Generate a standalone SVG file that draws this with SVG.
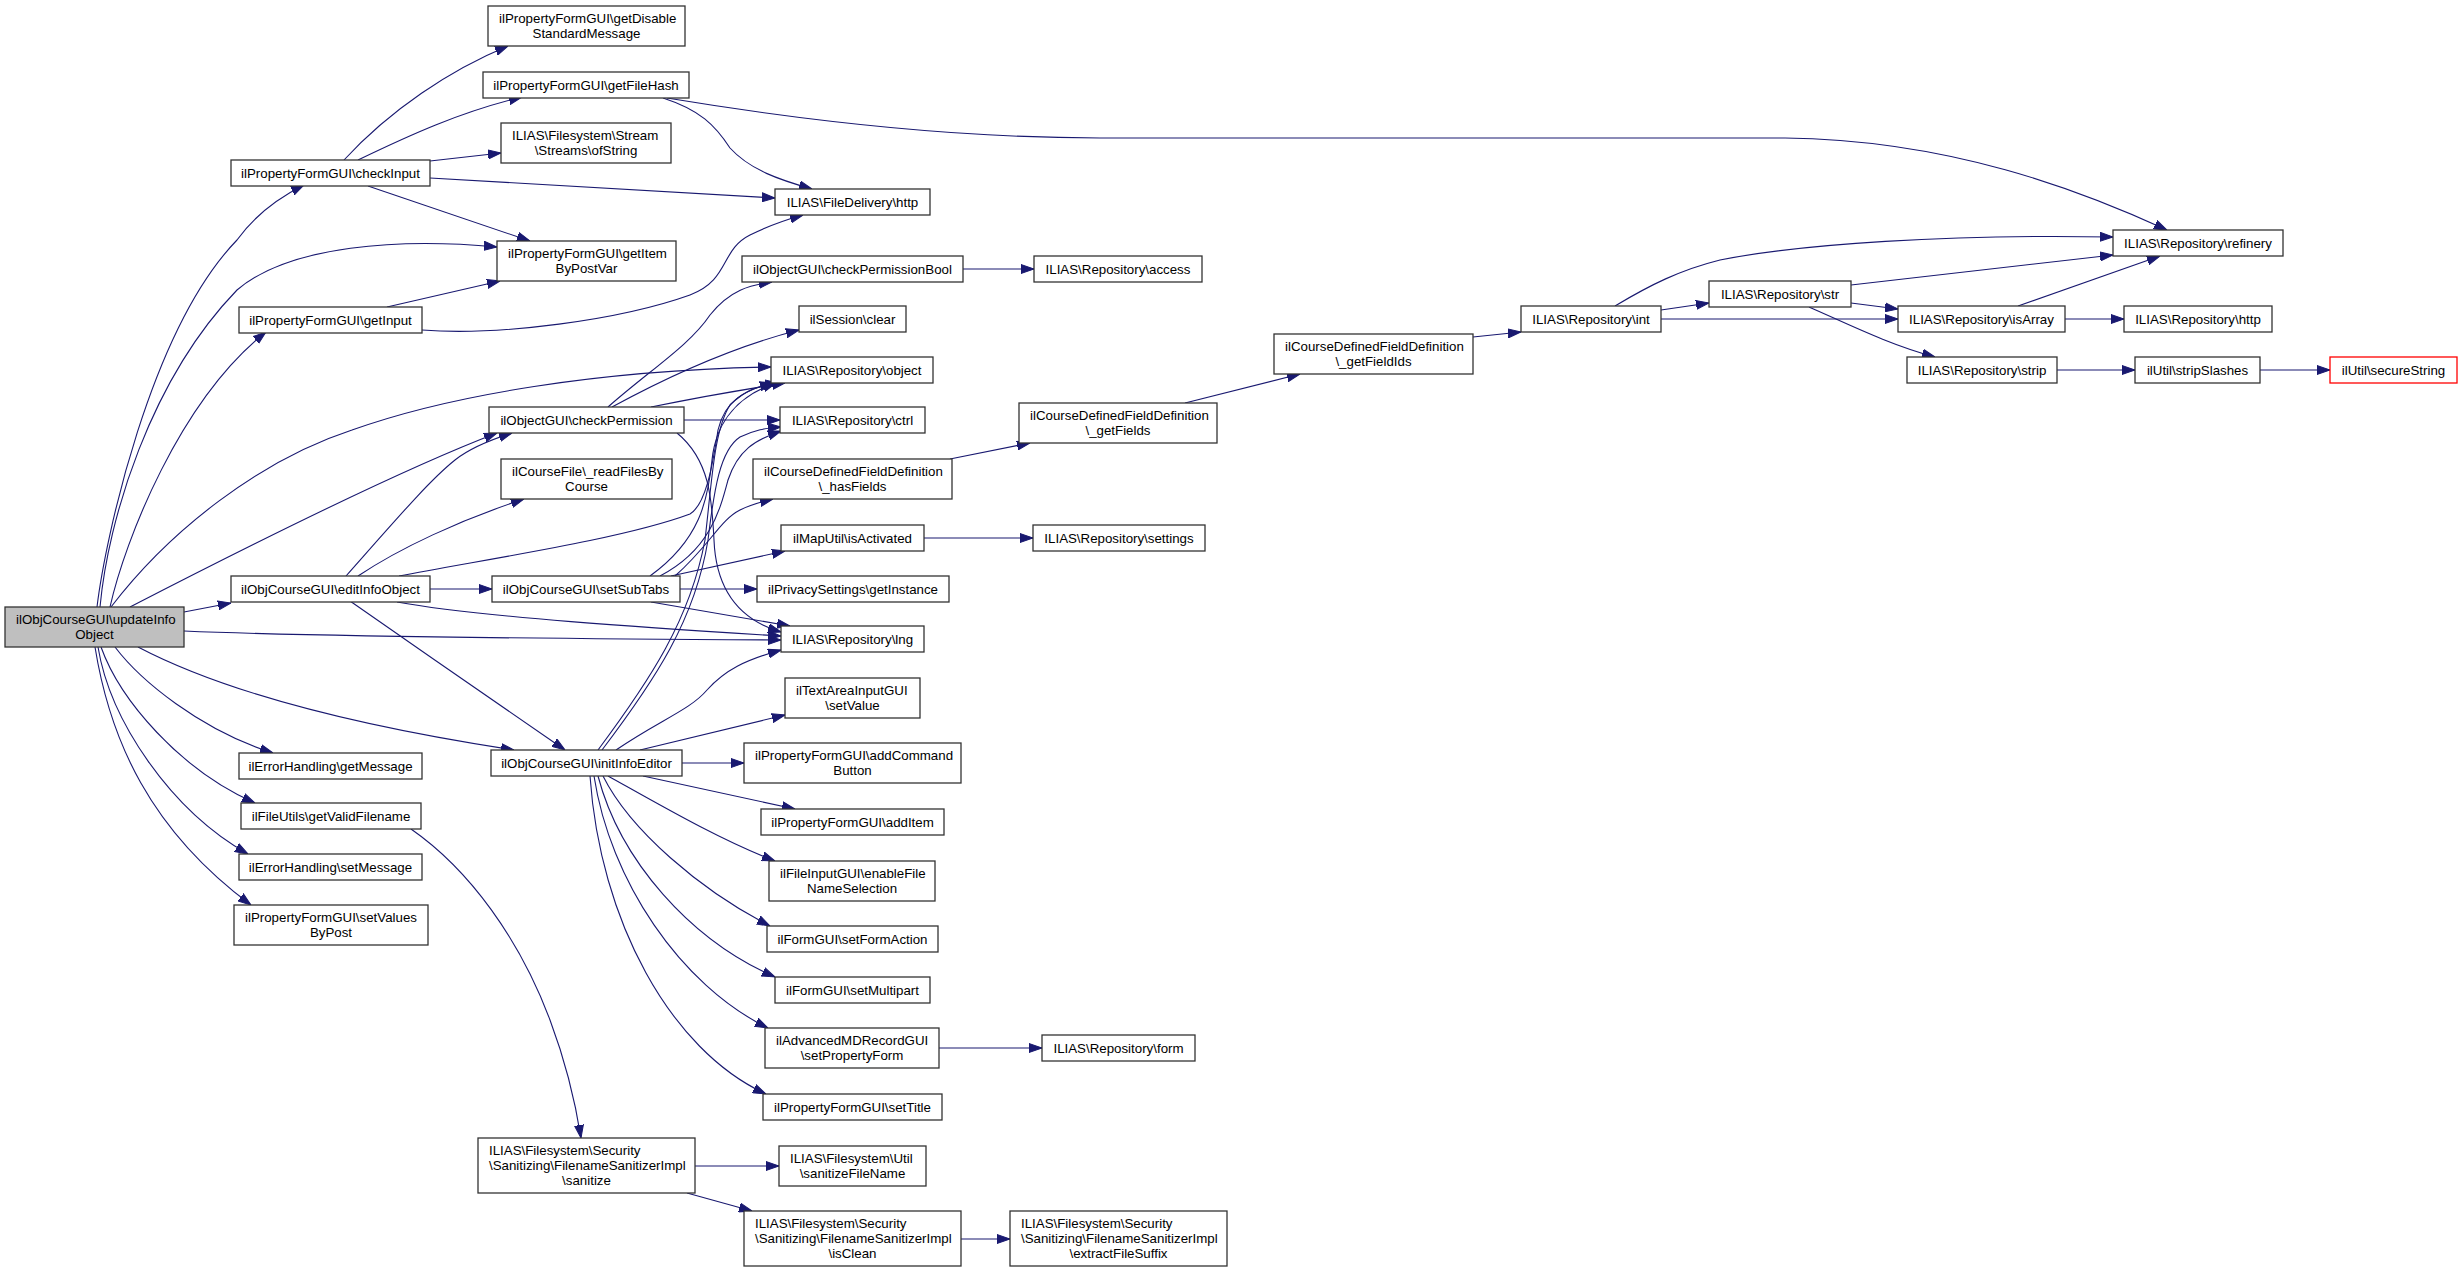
<svg xmlns="http://www.w3.org/2000/svg" width="2461" height="1273" viewBox="0 0 2461 1273">
<style>
.n rect{fill:#fff;stroke:#333;stroke-width:1.3}
.n.root rect{fill:#bfbfbf}
.n.red rect{stroke:#ff0000}
.n text{font-family:"Liberation Sans",Arial,Helvetica,sans-serif;font-size:13.3px;fill:#000}
.n text.c{text-anchor:middle}
.n text.l{text-anchor:start}
.e path{fill:none;stroke:#191970;stroke-width:1.1;marker-end:url(#ah)}
</style>
<defs>
<marker id="ah" viewBox="0 0 13 10" markerWidth="13" markerHeight="10" refX="13" refY="5" orient="auto" markerUnits="userSpaceOnUse">
<path d="M0,0.5 L13,5 L0,9.5 z" fill="#191970" stroke="#191970" stroke-width="1"/>
</marker>
</defs>
<rect width="2461" height="1273" fill="#fff"/>
<g id="edges" class="e">
<path d="M97,607 C105,540 150,330 237,240 C255,215 278,198 304,185"/>
<path d="M100,607 C108,520 150,380 237,290 C290,245 400,238 497,247"/>
<path d="M110,607 C125,540 180,400 266,332"/>
<path d="M111,607 C170,530 260,460 352,430 C450,395 600,370 771,367"/>
<path d="M130,607 C260,540 400,470 497,433"/>
<path d="M184,612 L231,603"/>
<path d="M184,631 C300,636 600,639 781,640"/>
<path d="M138,647 C220,690 350,725 514,750"/>
<path d="M115,647 C140,680 200,730 273,753"/>
<path d="M101,647 C120,700 180,770 255,803"/>
<path d="M98,647 C110,720 170,810 248,854"/>
<path d="M95,647 C110,740 150,830 251,905"/>
<path d="M346,576 C400,515 430,480 455,460 C470,448 490,440 512,433"/>
<path d="M358,576 C400,548 460,520 524,499"/>
<path d="M399,576 C480,560 620,540 690,514 C705,505 712,470 718,430 C725,400 745,390 773,383"/>
<path d="M430,589 L492,589"/>
<path d="M397,602 C480,617 650,628 781,636"/>
<path d="M350,601 C420,650 500,705 565,750"/>
<path d="M344,160 C390,110 450,70 508,46"/>
<path d="M358,160 C410,135 460,112 522,97"/>
<path d="M430,161 L501,153"/>
<path d="M430,178 C560,185 680,193 775,198"/>
<path d="M368,186 L530,241"/>
<path d="M387,307 L500,281"/>
<path d="M422,330 C500,336 620,320 690,295 C730,280 720,250 750,235 C770,225 785,220 803,215"/>
<path d="M663,98 C700,110 715,125 730,148 C750,170 780,180 812,189"/>
<path d="M667,98 C800,120 950,138 1100,138 L1785,138 C1950,140 2080,190 2167,230"/>
<path d="M963,269 L1034,269"/>
<path d="M608,407 C650,370 690,345 710,315 C730,290 750,285 772,282"/>
<path d="M612,407 C680,370 740,345 799,330"/>
<path d="M651,407 C700,397 740,390 785,383"/>
<path d="M684,420 L780,420"/>
<path d="M677,433 C710,460 712,500 714,540 C716,590 740,620 781,632"/>
<path d="M650,576 C700,540 708,500 712,460 C716,420 740,395 776,383"/>
<path d="M660,576 C710,550 720,510 728,480 C738,450 755,440 781,431"/>
<path d="M675,576 C710,545 720,520 740,510 C750,505 760,502 773,499"/>
<path d="M671,576 L785,551"/>
<path d="M680,589 L757,589"/>
<path d="M651,602 L790,626"/>
<path d="M598,750 C650,680 690,620 705,540 C712,480 714,430 730,405 C745,390 760,385 778,383"/>
<path d="M602,750 C655,680 695,620 708,540 C714,490 720,450 740,437 C755,430 765,428 781,427"/>
<path d="M616,750 C660,720 690,710 707,690 C725,670 745,660 781,650"/>
<path d="M640,750 L785,715"/>
<path d="M682,763 L744,763"/>
<path d="M643,776 L795,809"/>
<path d="M608,776 C660,805 720,840 775,861"/>
<path d="M603,776 C630,830 700,890 770,926"/>
<path d="M598,776 C620,860 690,940 775,977"/>
<path d="M594,776 C610,880 680,985 768,1028"/>
<path d="M590,776 C600,920 670,1050 766,1094"/>
<path d="M950,459 L1030,443"/>
<path d="M1185,403 L1300,374"/>
<path d="M1473,337 L1521,332"/>
<path d="M1615,306 C1650,285 1680,270 1720,260 C1800,244 1950,234 2113,237"/>
<path d="M1661,310 L1709,303"/>
<path d="M1661,319 L1898,319"/>
<path d="M1851,285 L2113,255"/>
<path d="M1851,303 L1898,309"/>
<path d="M1809,307 C1850,325 1890,345 1935,357"/>
<path d="M2018,306 L2160,256"/>
<path d="M2065,319 L2124,319"/>
<path d="M2057,370 L2135,370"/>
<path d="M2260,370 L2330,370"/>
<path d="M924,538 L1033,538"/>
<path d="M939,1048 L1042,1048"/>
<path d="M411,829 C470,870 520,940 550,1020 C565,1060 575,1100 581,1138"/>
<path d="M695,1166 L779,1166"/>
<path d="M687,1193 L752,1211"/>
<path d="M961,1239 L1010,1239"/>
</g>
<g id="update" class="n root"><rect x="5" y="607" width="179" height="40"/><text class="l" x="16" y="624">ilObjCourseGUI\updateInfo</text><text class="c" x="94.5" y="639">Object</text></g>
<g id="checkInput" class="n"><rect x="231" y="160" width="199" height="26"/><text class="c" x="330.5" y="177.5">ilPropertyFormGUI\checkInput</text></g>
<g id="getDisable" class="n"><rect x="488" y="6" width="197" height="40"/><text class="l" x="499" y="23">ilPropertyFormGUI\getDisable</text><text class="c" x="586.5" y="38">StandardMessage</text></g>
<g id="getFileHash" class="n"><rect x="483" y="72" width="206" height="26"/><text class="c" x="586" y="89.5">ilPropertyFormGUI\getFileHash</text></g>
<g id="ofString" class="n"><rect x="501" y="123" width="170" height="40"/><text class="l" x="512" y="140">ILIAS\Filesystem\Stream</text><text class="c" x="586" y="155">\Streams\ofString</text></g>
<g id="getItem" class="n"><rect x="497" y="241" width="179" height="40"/><text class="l" x="508" y="258">ilPropertyFormGUI\getItem</text><text class="c" x="586.5" y="273">ByPostVar</text></g>
<g id="getInput" class="n"><rect x="239" y="307" width="183" height="26"/><text class="c" x="330.5" y="324.5">ilPropertyFormGUI\getInput</text></g>
<g id="checkPermission" class="n"><rect x="489" y="407" width="195" height="26"/><text class="c" x="586.5" y="424.5">ilObjectGUI\checkPermission</text></g>
<g id="fdHttp" class="n"><rect x="775" y="189" width="155" height="26"/><text class="c" x="852.5" y="206.5">ILIAS\FileDelivery\http</text></g>
<g id="checkPermissionBool" class="n"><rect x="742" y="256" width="221" height="26"/><text class="c" x="852.5" y="273.5">ilObjectGUI\checkPermissionBool</text></g>
<g id="access" class="n"><rect x="1034" y="256" width="168" height="26"/><text class="c" x="1118" y="273.5">ILIAS\Repository\access</text></g>
<g id="clear" class="n"><rect x="799" y="306" width="107" height="26"/><text class="c" x="852.5" y="323.5">ilSession\clear</text></g>
<g id="object" class="n"><rect x="771" y="357" width="162" height="26"/><text class="c" x="852" y="374.5">ILIAS\Repository\object</text></g>
<g id="ctrl" class="n"><rect x="780" y="407" width="145" height="26"/><text class="c" x="852.5" y="424.5">ILIAS\Repository\ctrl</text></g>
<g id="getFields" class="n"><rect x="1019" y="403" width="198" height="40"/><text class="l" x="1030" y="420">ilCourseDefinedFieldDefinition</text><text class="c" x="1118" y="435">\_getFields</text></g>
<g id="getFieldIds" class="n"><rect x="1274" y="334" width="199" height="40"/><text class="l" x="1285" y="351">ilCourseDefinedFieldDefinition</text><text class="c" x="1373.5" y="366">\_getFieldIds</text></g>
<g id="int" class="n"><rect x="1521" y="306" width="140" height="26"/><text class="c" x="1591" y="323.5">ILIAS\Repository\int</text></g>
<g id="str" class="n"><rect x="1709" y="281" width="142" height="26"/><text class="c" x="1780" y="298.5">ILIAS\Repository\str</text></g>
<g id="refinery" class="n"><rect x="2113" y="230" width="170" height="26"/><text class="c" x="2198" y="247.5">ILIAS\Repository\refinery</text></g>
<g id="isArray" class="n"><rect x="1898" y="306" width="167" height="26"/><text class="c" x="1981.5" y="323.5">ILIAS\Repository\isArray</text></g>
<g id="repoHttp" class="n"><rect x="2124" y="306" width="148" height="26"/><text class="c" x="2198" y="323.5">ILIAS\Repository\http</text></g>
<g id="strip" class="n"><rect x="1907" y="357" width="150" height="26"/><text class="c" x="1982" y="374.5">ILIAS\Repository\strip</text></g>
<g id="stripSlashes" class="n"><rect x="2135" y="357" width="125" height="26"/><text class="c" x="2197.5" y="374.5">ilUtil\stripSlashes</text></g>
<g id="secureString" class="n red"><rect x="2330" y="357" width="127" height="26"/><text class="c" x="2393.5" y="374.5">ilUtil\secureString</text></g>
<g id="editInfoObject" class="n"><rect x="231" y="576" width="199" height="26"/><text class="c" x="330.5" y="593.5">ilObjCourseGUI\editInfoObject</text></g>
<g id="readFiles" class="n"><rect x="501" y="459" width="171" height="40"/><text class="l" x="512" y="476">ilCourseFile\_readFilesBy</text><text class="c" x="586.5" y="491">Course</text></g>
<g id="setSubTabs" class="n"><rect x="492" y="576" width="188" height="26"/><text class="c" x="586" y="593.5">ilObjCourseGUI\setSubTabs</text></g>
<g id="getMessage" class="n"><rect x="239" y="753" width="183" height="26"/><text class="c" x="330.5" y="770.5">ilErrorHandling\getMessage</text></g>
<g id="getValidFilename" class="n"><rect x="241" y="803" width="180" height="26"/><text class="c" x="331" y="820.5">ilFileUtils\getValidFilename</text></g>
<g id="initInfoEditor" class="n"><rect x="491" y="750" width="191" height="26"/><text class="c" x="586.5" y="767.5">ilObjCourseGUI\initInfoEditor</text></g>
<g id="hasFields" class="n"><rect x="753" y="459" width="199" height="40"/><text class="l" x="764" y="476">ilCourseDefinedFieldDefinition</text><text class="c" x="852.5" y="491">\_hasFields</text></g>
<g id="isActivated" class="n"><rect x="781" y="525" width="143" height="26"/><text class="c" x="852.5" y="542.5">ilMapUtil\isActivated</text></g>
<g id="settings" class="n"><rect x="1033" y="525" width="172" height="26"/><text class="c" x="1119" y="542.5">ILIAS\Repository\settings</text></g>
<g id="getInstance" class="n"><rect x="757" y="576" width="192" height="26"/><text class="c" x="853" y="593.5">ilPrivacySettings\getInstance</text></g>
<g id="lng" class="n"><rect x="781" y="626" width="143" height="26"/><text class="c" x="852.5" y="643.5">ILIAS\Repository\lng</text></g>
<g id="setValue" class="n"><rect x="785" y="678" width="135" height="40"/><text class="l" x="796" y="695">ilTextAreaInputGUI</text><text class="c" x="852.5" y="710">\setValue</text></g>
<g id="addCommandButton" class="n"><rect x="744" y="743" width="217" height="40"/><text class="l" x="755" y="760">ilPropertyFormGUI\addCommand</text><text class="c" x="852.5" y="775">Button</text></g>
<g id="addItem" class="n"><rect x="761" y="809" width="183" height="26"/><text class="c" x="852.5" y="826.5">ilPropertyFormGUI\addItem</text></g>
<g id="setMessage" class="n"><rect x="239" y="854" width="183" height="26"/><text class="c" x="330.5" y="871.5">ilErrorHandling\setMessage</text></g>
<g id="setValuesByPost" class="n"><rect x="234" y="905" width="194" height="40"/><text class="l" x="245" y="922">ilPropertyFormGUI\setValues</text><text class="c" x="331" y="937">ByPost</text></g>
<g id="sanitize" class="n"><rect x="478" y="1138" width="217" height="55"/><text class="l" x="489" y="1155">ILIAS\Filesystem\Security</text><text class="l" x="489" y="1170">\Sanitizing\FilenameSanitizerImpl</text><text class="c" x="586.5" y="1185">\sanitize</text></g>
<g id="enableFileNameSelection" class="n"><rect x="769" y="861" width="166" height="40"/><text class="l" x="780" y="878">ilFileInputGUI\enableFile</text><text class="c" x="852" y="893">NameSelection</text></g>
<g id="setFormAction" class="n"><rect x="767" y="926" width="171" height="26"/><text class="c" x="852.5" y="943.5">ilFormGUI\setFormAction</text></g>
<g id="setMultipart" class="n"><rect x="775" y="977" width="155" height="26"/><text class="c" x="852.5" y="994.5">ilFormGUI\setMultipart</text></g>
<g id="setPropertyForm" class="n"><rect x="765" y="1028" width="174" height="40"/><text class="l" x="776" y="1045">ilAdvancedMDRecordGUI</text><text class="c" x="852" y="1060">\setPropertyForm</text></g>
<g id="form" class="n"><rect x="1042" y="1035" width="153" height="26"/><text class="c" x="1118.5" y="1052.5">ILIAS\Repository\form</text></g>
<g id="setTitle" class="n"><rect x="763" y="1094" width="179" height="26"/><text class="c" x="852.5" y="1111.5">ilPropertyFormGUI\setTitle</text></g>
<g id="sanitizeFileName" class="n"><rect x="779" y="1146" width="147" height="40"/><text class="l" x="790" y="1163">ILIAS\Filesystem\Util</text><text class="c" x="852.5" y="1178">\sanitizeFileName</text></g>
<g id="isClean" class="n"><rect x="744" y="1211" width="217" height="55"/><text class="l" x="755" y="1228">ILIAS\Filesystem\Security</text><text class="l" x="755" y="1243">\Sanitizing\FilenameSanitizerImpl</text><text class="c" x="852.5" y="1258">\isClean</text></g>
<g id="extractFileSuffix" class="n"><rect x="1010" y="1211" width="217" height="55"/><text class="l" x="1021" y="1228">ILIAS\Filesystem\Security</text><text class="l" x="1021" y="1243">\Sanitizing\FilenameSanitizerImpl</text><text class="c" x="1118.5" y="1258">\extractFileSuffix</text></g>
</svg>
